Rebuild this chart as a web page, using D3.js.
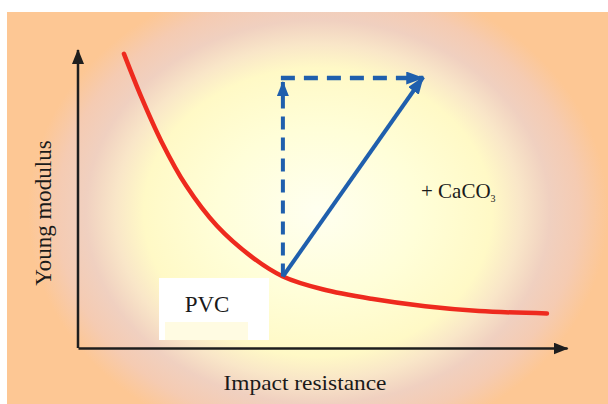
<!DOCTYPE html>
<html lang="en">
<head>
    <meta charset="UTF-8">
    <title>PVC + CaCO3</title>
    <script src="https://cdnjs.cloudflare.com/ajax/libs/d3/7.8.5/d3.min.js"></script>
    <style>
        body {
            margin: 0;
            overflow: hidden;
            background: #fff;
        }
        text {
            font-family: "Liberation Serif", "DejaVu Serif", serif;
            fill: #1a1a1a;
        }
    </style>
</head>
<body>
    <script>
        const width = 608;
        const height = 404;

        // Trade-off curve (impact resistance, young modulus), arbitrary units
        const curveImpact  = [0.94, 1.30, 1.70, 2.21, 2.84, 3.56, 4.19, 5.00, 6.00, 7.10, 8.20, 9.59];
        const curveModulus = [9.87, 8.40, 6.95, 5.45, 4.10, 3.05, 2.40, 1.97, 1.65, 1.40, 1.24, 1.16];

        // PVC start point and the CaCO3 target point
        const pvcPoint = [4.19, 2.40];
        const caco3Point = [7.06, 9.06];

        const xLabel = 'Impact resistance';
        const yLabel = 'Young modulus';

        const svg = d3.select('body')
            .append('svg')
            .attr('width', width)
            .attr('height', height);

        const defs = svg.append('defs');

        // Background glow
        const grad = defs.append('radialGradient')
            .attr('id', 'glow')
            .attr('gradientUnits', 'userSpaceOnUse')
            .attr('cx', 0).attr('cy', 0).attr('r', 1)
            .attr('gradientTransform', 'translate(318,212) scale(290,240)');
        [
            [0, '#fffff0'],
            [0.35, '#fffed8'],
            [0.6, '#fff9c6'],
            [0.7, '#f9e6c8'],
            [0.8, '#f0d0c0'],
            [0.9, '#f5cbb2'],
            [1, '#fdc794']
        ].forEach(s => grad.append('stop').attr('offset', s[0]).attr('stop-color', s[1]));

        svg.append('rect')
            .attr('x', 7).attr('y', 12)
            .attr('width', width - 7).attr('height', height - 12)
            .attr('fill', '#fdc794');
        svg.append('rect')
            .attr('x', 7).attr('y', 12)
            .attr('width', width - 7).attr('height', height - 12)
            .attr('fill', 'url(#glow)');

        // Markers
        function marker(id, color, w, h) {
            defs.append('marker')
                .attr('id', id)
                .attr('viewBox', `0 0 ${w} ${h}`)
                .attr('refX', w - 1).attr('refY', h / 2)
                .attr('markerWidth', w).attr('markerHeight', h)
                .attr('markerUnits', 'userSpaceOnUse')
                .attr('orient', 'auto')
                .append('path')
                .attr('d', `M0,0L${w},${h / 2}L0,${h}Z`)
                .attr('fill', color);
        }
        marker('axisArrow', '#1e1e1e', 15, 12);
        marker('blueArrow', '#1f5fad', 18, 13);
        marker('blueArrowSmall', '#1f5fad', 15, 12);

        const x = d3.scaleLinear().domain([0, 10]).range([78, 567]);
        const y = d3.scaleLinear().domain([0, 10]).range([348, 50]);

        // PVC label box
        svg.append('rect')
            .attr('x', 159).attr('y', 278)
            .attr('width', 110).attr('height', 62)
            .attr('fill', '#ffffff');
        svg.append('rect')
            .attr('x', 165).attr('y', 322)
            .attr('width', 83).attr('height', 18)
            .attr('fill', '#fffbe2');
        svg.append('text')
            .attr('x', 207).attr('y', 312)
            .attr('text-anchor', 'middle')
            .attr('font-size', 23)
            .text('PVC');

        // Axes
        svg.append('g')
            .attr('transform', `translate(0,${y(0)})`)
            .call(d3.axisBottom(x).ticks(0).tickSizeOuter(0))
            .select('.domain')
            .attr('stroke', '#1e1e1e')
            .attr('stroke-width', 2.5)
            .attr('marker-end', 'url(#axisArrow)');

        svg.append('g')
            .attr('transform', `translate(${x(0)},0)`)
            .call(d3.axisLeft(y).ticks(0).tickSizeOuter(0))
            .select('.domain')
            .attr('stroke', '#1e1e1e')
            .attr('stroke-width', 2.5)
            .attr('d', `M0,${y(0)}V${y(10)}`)
            .attr('marker-end', 'url(#axisArrow)');

        // Red curve
        const curveData = curveImpact.map((v, i) => [v, curveModulus[i]]);
        svg.append('path')
            .datum(curveData)
            .attr('fill', 'none')
            .attr('stroke', '#ee2a1e')
            .attr('stroke-width', 4.5)
            .attr('stroke-linecap', 'round')
            .attr('d', d3.line()
                .x(d => x(d[0]))
                .y(d => y(d[1]))
                .curve(d3.curveCatmullRom.alpha(0.5)));

        // Blue arrows
        const blue = '#1f5fad';
        const corner = [pvcPoint[0], caco3Point[1]];
        svg.append('line')
            .attr('x1', x(pvcPoint[0])).attr('y1', y(pvcPoint[1]))
            .attr('x2', x(corner[0])).attr('y2', y(corner[1]) + 4)
            .attr('stroke', blue).attr('stroke-width', 4)
            .attr('stroke-dasharray', '13,8')
            .attr('marker-end', 'url(#blueArrowSmall)');
        svg.append('line')
            .attr('x1', x(corner[0]) - 2).attr('y1', y(corner[1]))
            .attr('x2', x(caco3Point[0])).attr('y2', y(corner[1]))
            .attr('stroke', blue).attr('stroke-width', 4.5)
            .attr('stroke-dasharray', '14,9')
            .attr('marker-end', 'url(#blueArrow)');
        svg.append('line')
            .attr('x1', x(pvcPoint[0])).attr('y1', y(pvcPoint[1]))
            .attr('x2', x(caco3Point[0])).attr('y2', y(caco3Point[1]) - 1)
            .attr('stroke', blue).attr('stroke-width', 4)
            .attr('marker-end', 'url(#blueArrow)');

        // Labels
        const caco3 = svg.append('text')
            .attr('x', 421).attr('y', 198)
            .attr('font-size', 21);
        caco3.append('tspan').text('+ CaCO');
        caco3.append('tspan').attr('font-size', 10).attr('dy', 4).text('3');

        svg.append('text')
            .attr('x', 305).attr('y', 390)
            .attr('text-anchor', 'middle')
            .attr('font-size', 22)
            .attr('textLength', 163)
            .attr('lengthAdjust', 'spacingAndGlyphs')
            .text(xLabel);

        svg.append('text')
            .attr('transform', 'translate(51,213) rotate(-90)')
            .attr('text-anchor', 'middle')
            .attr('font-size', 23)
            .text(yLabel);
    </script>
</body>
</html>
